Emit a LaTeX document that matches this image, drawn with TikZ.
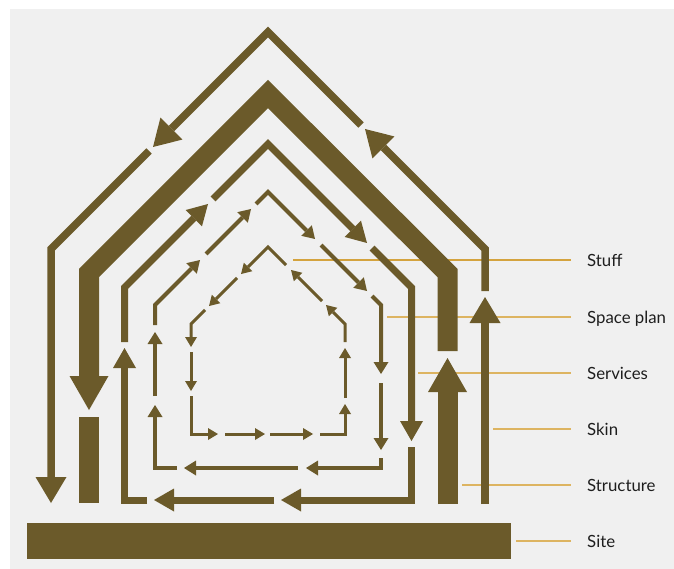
\documentclass[tikz,border=0pt]{standalone}
\usepackage{fontspec}
\setmainfont{Lato}
\usetikzlibrary{arrows.meta}
\definecolor{brn}{HTML}{6B5A2A}
\definecolor{bgc}{HTML}{F0F0F0}
\definecolor{leadc}{HTML}{DDB461}
\definecolor{leadd}{HTML}{D4A33E}
\definecolor{txt}{HTML}{1E1E1E}
\begin{document}
\begin{tikzpicture}[x=1pt,y=-1pt,
  skinln/.style={draw=brn,line width=7.5pt,-{Triangle[length=26pt,width=31pt,line width=0pt]}},
  strucln/.style={draw=brn,line width=20pt,-{Triangle[length=34pt,width=39pt,line width=0pt]}},
  servln/.style={draw=brn,line width=7pt,-{Triangle[length=20pt,width=23pt,line width=0pt]}},
  spaceln/.style={draw=brn,line width=4pt,-{Triangle[length=12pt,width=15pt,line width=0pt]}},
  stuffln/.style={draw=brn,line width=3pt,-{Triangle[length=10pt,width=12pt,line width=0pt]}},
  lead/.style={draw=leadc,line width=1.1pt},
  lab/.style={anchor=base west,inner sep=0pt,text=txt,font=\fontsize{16.8}{19}\selectfont}]
\useasboundingbox (0,0) rectangle (674,569);
\fill[white] (0,0) rectangle (674,569);
\fill[bgc] (10,9) rectangle (674,569);

% labels
\coordinate (lx) at (571,0);
\node[lab] (lstuff) at (587,266) {Stuff};
\node[lab] (lspace) at (587,323) {Space plan};
\node[lab] (lserv) at (587,379) {Services};
\node[lab] (lskin) at (587,435) {Skin};
\node[lab] (lstruc) at (587,491) {Structure};
\node[lab] (lsite) at (587,547) {Site};

% leader lines
\coordinate (astuff) at (293,260);
\coordinate (aspace) at (387,317);
\coordinate (aserv) at (418,373);
\coordinate (askin) at (493,429);
\coordinate (astruc) at (462,485);
\coordinate (asite) at (516,541);
\draw[lead,draw=leadd,line width=1.3pt] (astuff) -- (astuff -| lx);
\draw[lead] (aspace) -- (aspace -| lx);
\draw[lead] (aserv) -- (aserv -| lx);
\draw[lead] (askin) -- (askin -| lx);
\draw[lead] (astruc) -- (astruc -| lx);
\draw[lead] (asite) -- (asite -| lx);

% site
\fill[brn] (27,523) rectangle (511,559);

% skin
\draw[skinln] (485,504) -- (485,297);
\draw[skinln] (485,291) -- (485,249) -- (365,129);
\draw[skinln] (361,125) -- (268,32) -- (153,147);
\draw[skinln] (149,151) -- (51,249) -- (51,503);

% structure
\draw[strucln] (447.5,504) -- (447.5,358);
\draw[strucln] (447.5,351) -- (447.5,273) -- (268,94) -- (89,273) -- (89,410);
\draw[draw=brn,line width=20pt] (89,417) -- (89,503);

% services
\draw[servln] (411.5,447) -- (411.5,500) -- (281,500);
\draw[servln] (274,500) -- (154,500);
\draw[servln] (147,500) -- (124.5,500) -- (124.5,348);
\draw[servln] (124.5,342) -- (124.5,287.5) -- (208,204);
\draw[servln] (213,199) -- (268,144) -- (367,243);
\draw[servln] (372,248) -- (411.5,287.5) -- (411.5,441);

% space plan
\draw[spaceln] (177,468) -- (155,468) -- (155,405);
\draw[spaceln] (155,396) -- (155,332);
\draw[spaceln] (155,325) -- (155,305) -- (200,260);
\draw[spaceln] (206,254) -- (251,209);
\draw[spaceln] (256,204) -- (268,192) -- (315,239);
\draw[spaceln] (321,245) -- (367,291);
\draw[spaceln] (372,296) -- (381,305) -- (381,374);
\draw[spaceln] (381,383) -- (381,450);
\draw[spaceln] (381,458) -- (381,468) -- (306,468);
\draw[spaceln] (298,468) -- (184,468);

% stuff
\draw[stuffln] (322,301) -- (291,270);
\draw[stuffln] (286,265) -- (268,247) -- (241,274);
\draw[stuffln] (237,278) -- (209,306);
\draw[stuffln] (205,310) -- (191,324) -- (191,347);
\draw[stuffln] (191,352) -- (191,391);
\draw[stuffln] (191,396) -- (191,434) -- (218,434);
\draw[stuffln] (225,434) -- (265,434);
\draw[stuffln] (270,434) -- (313,434);
\draw[stuffln] (320,434) -- (345,434) -- (345,404);
\draw[stuffln] (345,398) -- (345,348);
\draw[stuffln] (345,342) -- (345,324) -- (326,305);
\end{tikzpicture}
\end{document}
